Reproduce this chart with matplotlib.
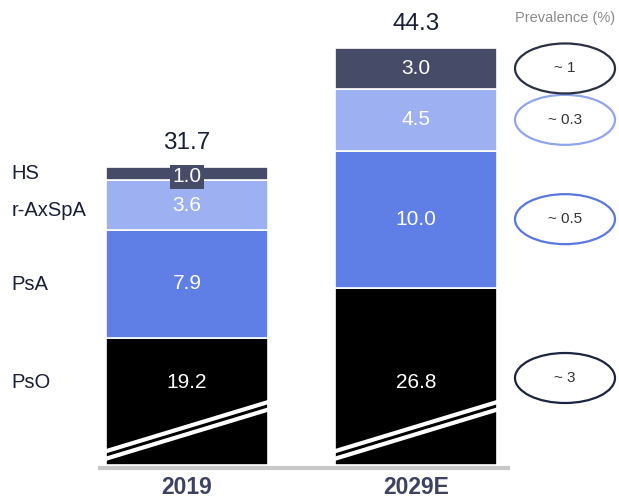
import numpy as np
import matplotlib.pyplot as plt
from matplotlib.patches import Ellipse

plt.rcParams['font.family'] = ['Liberation Sans', 'DejaVu Sans']

years = ['2019', '2029E']
segments = ['PsO', 'PsA', 'r-AxSpA', 'HS']
values = {
    'PsO': [19.2, 26.8],
    'PsA': [7.9, 10.0],
    'r-AxSpA': [3.6, 4.5],
    'HS': [1.0, 3.0],
}
totals = [31.7, 44.3]
prevalence = ['~ 3', '~ 0.5', '~ 0.3', '~ 1']

colors = {'PsO': '#000000', 'PsA': '#5f7fe6', 'r-AxSpA': '#9cb0f2', 'HS': '#464b67'}
ring_colors = {'PsO': '#1c2540', 'PsA': '#5a78e0', 'r-AxSpA': '#8fa5ee', 'HS': '#2a2f45'}

# PsO bar segment is drawn on a compressed (broken) scale
PSO_SCALE = 0.483

fig = plt.figure(figsize=(6.19, 5.0), dpi=100)
ax = fig.add_axes([0, 35 / 500, 1, 465 / 500])
px = 13.7  # pixels per unit
ax.set_ylim(0, 465 / px)
ax.set_xlim(-187 / 229, (619 - 187) / 229)
ax.axis('off')

x = np.arange(len(years))
width = 0.71
bottom = np.zeros(len(years))
tops = {}
for seg in segments:
    h = np.array(values[seg], dtype=float)
    if seg == 'PsO':
        h = h * PSO_SCALE
    bars = ax.bar(x, h, width, bottom=bottom, color=colors[seg], edgecolor='white', linewidth=1.2, zorder=2)
    tops[seg] = (bottom.copy(), bottom + h, bars)
    bottom = bottom + h

# value labels inside segments
for seg in segments:
    b0, b1, bars = tops[seg]
    for i in range(len(years)):
        v = values[seg][i]
        yc = (b0[i] + b1[i]) / 2
        if seg == 'PsO':
            yc = (465 - 383) / px
        txt = ax.text(x[i], yc, f'{v:.1f}', ha='center', va='center', color='white', fontsize=15, zorder=4)
        if seg == 'HS' and i == 0:
            txt.set_y(yc - 0.25)
            txt.set_bbox(dict(facecolor=colors['HS'], edgecolor='none', pad=1.5))

# break marks on PsO segment
for i in range(len(years)):
    b0, b1, bars = tops['PsO']
    bar = bars[i]
    xs = np.array([x[i] - width / 2 - 0.02, x[i] + width / 2 + 0.02])
    ys = np.array([0.35, 4.15])
    for off in (0.0, 0.55):
        ln, = ax.plot(xs, ys + off, color='white', lw=3.0, zorder=3, solid_capstyle='butt')
        ln.set_clip_path(bar)

# totals above bars
for i in range(len(years)):
    ax.text(x[i], bottom[i] + 24 / px, f'{totals[i]:.1f}', ha='center', va='center',
            fontsize=17.5, color='#1a1f35', zorder=4)

# baseline
ax.plot([-0.38, 1.4], [-0.2, -0.2], color='#c8c8c8', lw=3, clip_on=False, zorder=1)

# year labels
for i, yr in enumerate(years):
    ax.text(x[i], -22 / px, yr, ha='center', va='center', fontsize=16.5, fontweight='bold',
            color='#3d4260', clip_on=False)

# segment names on left, next to 2019 bar
name_y = {'HS': 173, 'r-AxSpA': 211, 'PsA': 284, 'PsO': 383}
for seg in segments:
    ax.text(-0.765, (465 - name_y[seg]) / px, seg, ha='left', va='center', fontsize=14.5, color='#1a1f35')

# prevalence rings aligned to 2029E segments
ex = (565 - 187) / 229
for seg, label in zip(segments, prevalence):
    b0, b1, bars = tops[seg]
    yc = (b0[1] + b1[1]) / 2
    if seg == 'PsO':
        yc = (465 - 378) / px
    ax.add_patch(Ellipse((ex, yc), 100 / 229, 50 / px, facecolor='white',
                         edgecolor=ring_colors[seg], lw=1.6, zorder=3))
    ax.text(ex, yc, label, ha='center', va='center', fontsize=11, color='#333333', zorder=4)

ax.text(ex, (465 - 18) / px, 'Prevalence (%)', ha='center', va='center', fontsize=10.5, color='#8a8a8a')

fig.savefig('out.png', dpi=100)
